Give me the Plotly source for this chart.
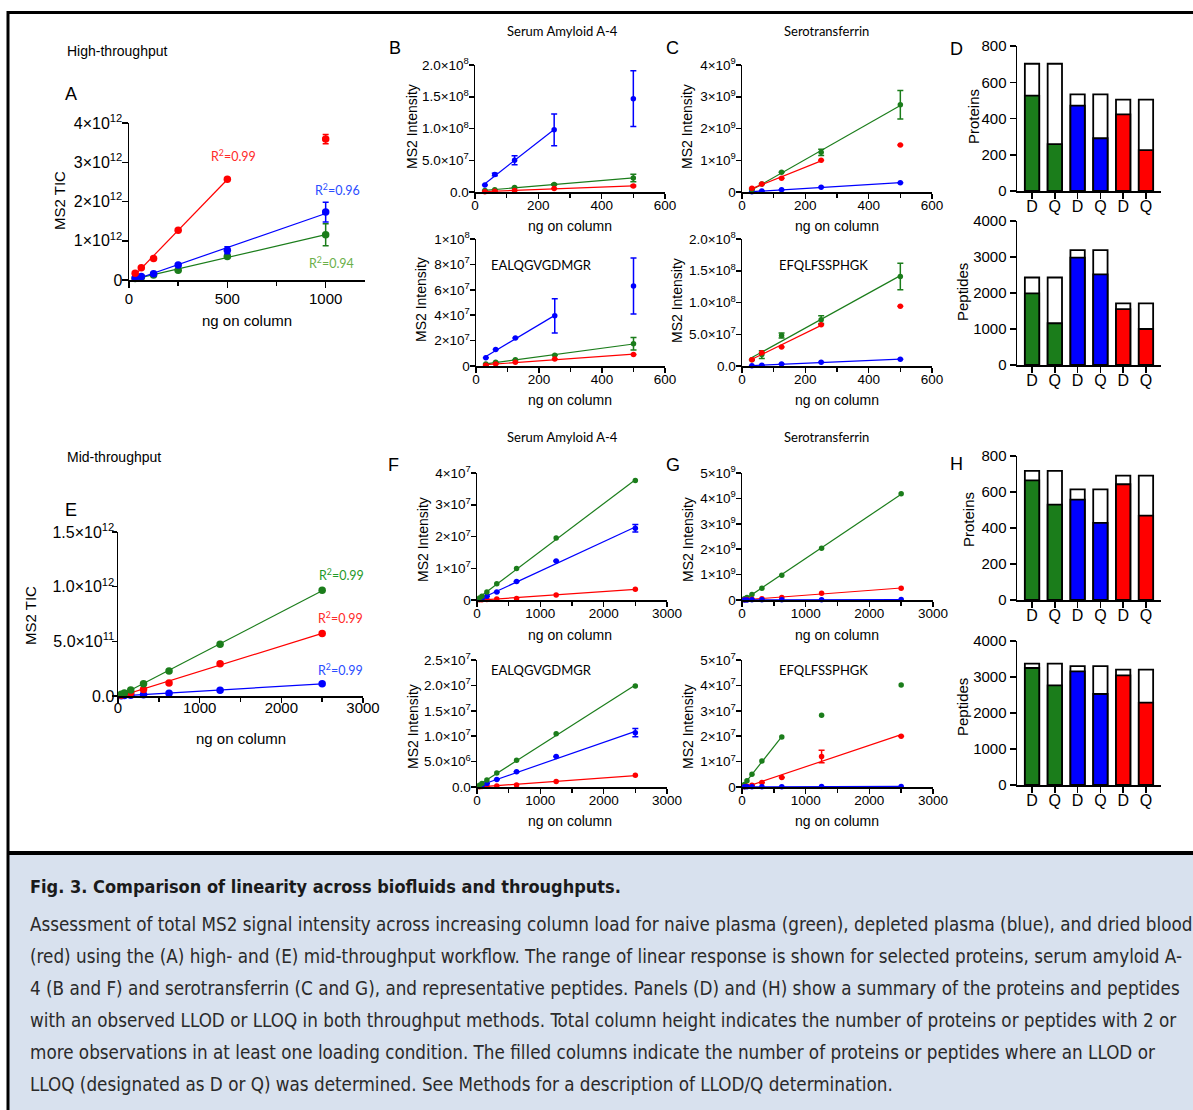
import numpy as np
import plotly.graph_objects as go

W, H = 1193, 1110
ARIAL = "Arial, Liberation Sans, Helvetica, sans-serif"
CALIBRI = "Lato, Carlito, Calibri, Open Sans, sans-serif"
COND = "Liberation Sans Narrow, DejaVu Sans Condensed, Roboto Condensed, Arial Narrow, sans-serif"

GREEN = "#1b7d1b"
BLUE = "#0000ff"
RED = "#ff0000"

# ---------------- data ----------------
x_ht = [31.25, 62.5, 125, 250, 500, 1000]
x_ht5 = [31.25, 62.5, 125, 250, 500]
x_mt = [39.0625, 78.125, 156.25, 312.5, 625, 1250, 2500]

# A: high-throughput MS2 TIC
a_green = [0.04e12, 0.07e12, 0.13e12, 0.25e12, 0.60e12, 1.15e12]
a_green_err = [0, 0, 0, 0.02e12, 0.03e12, 0.28e12]
a_blue = [0.05e12, 0.09e12, 0.16e12, 0.38e12, 0.76e12, 1.73e12]
a_blue_err = [0, 0, 0, 0.03e12, 0.09e12, 0.25e12]
a_red = [0.17e12, 0.31e12, 0.55e12, 1.27e12, 2.57e12, 3.59e12]
a_red_err = [0, 0, 0, 0, 0, 0.12e12]

# B: serum amyloid A-4 (protein / peptide), high throughput
b1_blue = [1.1e7, 2.75e7, 5.0e7, 9.8e7, 1.47e8]
b1_blue_err = [0, 0.2e7, 0.7e7, 2.5e7, 4.4e7]
b1_green = [0.25e7, 0.35e7, 0.7e7, 1.2e7, 2.2e7]
b1_green_err = [0, 0, 0, 0.1e7, 0.6e7]
b1_red = [0.05e7, 0.12e7, 0.25e7, 0.55e7, 0.95e7]
b1_red_err = [0, 0, 0, 0, 0.1e7]

b2_blue = [0.65e7, 1.3e7, 2.2e7, 3.95e7, 6.3e7]
b2_blue_err = [0, 0, 0, 1.35e7, 2.2e7]
b2_green = [0.15e7, 0.3e7, 0.5e7, 0.85e7, 1.75e7]
b2_green_err = [0, 0, 0, 0, 0.5e7]
b2_red = [0.05e7, 0.15e7, 0.3e7, 0.55e7, 0.9e7]
b2_red_err = [0, 0, 0, 0, 0]

# C: serotransferrin (protein / peptide), high throughput
c1_green = [0.08e9, 0.25e9, 0.62e9, 1.25e9, 2.75e9]
c1_green_err = [0, 0, 0, 0.1e9, 0.45e9]
c1_red = [0.12e9, 0.25e9, 0.43e9, 1.0e9, 1.48e9]
c1_red_err = [0, 0, 0, 0, 0]
c1_blue = [0.005e9, 0.03e9, 0.07e9, 0.15e9, 0.29e9]
c1_blue_err = [0, 0, 0, 0, 0]

c2_green = [1.0e7, 1.8e7, 4.8e7, 7.3e7, 14.1e7]
c2_green_err = [0, 0.6e7, 0.4e7, 0.6e7, 2.1e7]
c2_red = [1.0e7, 2.1e7, 3.0e7, 6.5e7, 9.4e7]
c2_red_err = [0, 0, 0, 0, 0]
c2_blue = [0.05e7, 0.1e7, 0.3e7, 0.6e7, 1.05e7]
c2_blue_err = [0, 0, 0, 0, 0]

# E: mid-throughput MS2 TIC
e_green = [0.015e12, 0.028e12, 0.055e12, 0.113e12, 0.229e12, 0.473e12, 0.967e12]
e_red = [0.008e12, 0.015e12, 0.03e12, 0.06e12, 0.119e12, 0.296e12, 0.571e12]
e_blue = [0.002e12, 0.004e12, 0.006e12, 0.012e12, 0.025e12, 0.052e12, 0.113e12]

# F: serum amyloid A-4, mid throughput
f1_green = [0.06e7, 0.12e7, 0.25e7, 0.515e7, 0.99e7, 1.95e7, 3.76e7]
f1_blue = [0.02e7, 0.05e7, 0.12e7, 0.25e7, 0.58e7, 1.23e7, 2.26e7]
f1_blue_err = [0, 0, 0, 0, 0, 0, 0.12e7]
f1_red = [0.005e7, 0.01e7, 0.015e7, 0.03e7, 0.05e7, 0.16e7, 0.34e7]

f2_green = [0.035e7, 0.07e7, 0.14e7, 0.276e7, 0.527e7, 1.05e7, 1.99e7]
f2_blue = [0.015e7, 0.03e7, 0.07e7, 0.15e7, 0.3e7, 0.6e7, 1.07e7]
f2_blue_err = [0, 0, 0, 0, 0, 0, 0.08e7]
f2_red = [0.005e7, 0.01e7, 0.02e7, 0.02e7, 0.04e7, 0.11e7, 0.23e7]

# G: serotransferrin, mid throughput
g1_green = [0.05e9, 0.1e9, 0.22e9, 0.46e9, 0.97e9, 2.04e9, 4.18e9]
g1_red = [0.01e9, 0.015e9, 0.03e9, 0.05e9, 0.1e9, 0.27e9, 0.46e9]
g1_blue = [0.002e9, 0.003e9, 0.005e9, 0.008e9, 0.01e9, 0.012e9, 0.02e9]

g2_green = [0.1e7, 0.25e7, 0.5e7, 1.02e7, 1.97e7, 2.82e7, 4.02e7]
g2_red = [0.01e7, 0.03e7, 0.07e7, 0.18e7, 0.37e7, 1.2e7, 2.0e7]
g2_red_err = [0, 0, 0, 0, 0, 0.25e7, 0]
g2_blue = [0.005e7, 0.005e7, 0.01e7, 0.01e7, 0.01e7, 0.015e7, 0.02e7]

# D / H: LLOD / LLOQ summary bars
bar_labels = ["D", "Q", "D", "Q", "D", "Q"]
bar_colors = [GREEN, GREEN, BLUE, BLUE, RED, RED]
d_prot_total = [702, 702, 533, 533, 504, 504]
d_prot_filled = [526, 259, 471, 291, 423, 226]
d_pep_total = [2430, 2430, 3190, 3190, 1710, 1710]
d_pep_filled = [1990, 1160, 2985, 2515, 1552, 1000]
h_prot_total = [717, 717, 615, 615, 691, 691]
h_prot_filled = [665, 530, 558, 428, 643, 469]
h_pep_total = [3370, 3370, 3300, 3300, 3203, 3203]
h_pep_filled = [3250, 2770, 3158, 2528, 3047, 2286]

# tick labels
def sci(m, e):
    return f"{m}×10<sup>{e}</sup>"

yt_a = ["0", sci(1, 12), sci(2, 12), sci(3, 12), sci(4, 12)]
yt_b1 = ["0.0", sci("5.0", 7), sci("1.0", 8), sci("1.5", 8), sci("2.0", 8)]
yt_b2 = ["0", sci(2, 7), sci(4, 7), sci(6, 7), sci(8, 7), sci(1, 8)]
yt_c1 = ["0", sci(1, 9), sci(2, 9), sci(3, 9), sci(4, 9)]
yt_c2 = ["0.0", sci("5.0", 7), sci("1.0", 8), sci("1.5", 8), sci("2.0", 8)]
yt_e = ["0.0", sci("5.0", 11), sci("1.0", 12), sci("1.5", 12)]
yt_f1 = ["0", sci(1, 7), sci(2, 7), sci(3, 7), sci(4, 7)]
yt_f2 = ["0.0", sci("5.0", 6), sci("1.0", 7), sci("1.5", 7), sci("2.0", 7), sci("2.5", 7)]
yt_g1 = ["0", sci(1, 9), sci(2, 9), sci(3, 9), sci(4, 9), sci(5, 9)]
yt_g2 = ["0", sci(1, 7), sci(2, 7), sci(3, 7), sci(4, 7), sci(5, 7)]

CAPTION_TITLE = "Fig. 3. Comparison of linearity across biofluids and throughputs."
CAPTION_LINES = [
    "Assessment of total MS2 signal intensity across increasing column load for naive plasma (green), depleted plasma (blue), and dried blood",
    "(red) using the (A) high- and (E) mid-throughput workflow. The range of linear response is shown for selected proteins, serum amyloid A-",
    "4 (B and F) and serotransferrin (C and G), and representative peptides. Panels (D) and (H) show a summary of the proteins and peptides",
    "with an observed LLOD or LLOQ in both throughput methods. Total column height indicates the number of proteins or peptides with 2 or",
    "more observations in at least one loading condition. The filled columns indicate the number of proteins or peptides where an LLOD or",
    "LLOQ (designated as D or Q) was determined. See Methods for a description of LLOD/Q determination.",
]

# ---------------- figure ----------------
fig = go.Figure()
layout = dict(width=W, height=H, margin=dict(l=0, r=0, t=0, b=0, pad=0),
              paper_bgcolor="white", plot_bgcolor="rgba(0,0,0,0)",
              barmode="overlay", showlegend=False, template="none")
annotations = []
shapes = []


def make_axes(n, x0, x1, y0, y1, xrange, yrange, xvals, xtext, yvals, ytext,
              xminor=None, xfs=13.5, yfs=13.5, xso=-5, yso=-3, tlen=5):
    xa = "xaxis" if n == 1 else f"xaxis{n}"
    ya = "yaxis" if n == 1 else f"yaxis{n}"
    xr = "x" if n == 1 else f"x{n}"
    yr = "y" if n == 1 else f"y{n}"
    common = dict(showline=True, linecolor="black", linewidth=1.5, ticks="outside",
                  ticklen=tlen, tickwidth=1.5, tickcolor="black", showgrid=False,
                  zeroline=False, fixedrange=True, tickmode="array", automargin=False,
                  mirror=False)
    layout[xa] = dict(domain=[x0 / W, x1 / W], range=xrange, anchor=yr,
                      tickvals=xvals, ticktext=xtext, ticklabelstandoff=xso,
                      tickfont=dict(family=ARIAL, size=xfs, color="black"), **common)
    if xminor is not None:
        layout[xa]["minor"] = dict(tickmode="array", tickvals=xminor, ticks="outside",
                                   ticklen=4, tickwidth=1.5, tickcolor="black")
    layout[ya] = dict(domain=[1 - y1 / H, 1 - y0 / H], range=yrange, anchor=xr,
                      tickvals=yvals, ticktext=ytext, ticklabelstandoff=yso,
                      tickfont=dict(family=ARIAL, size=yfs, color="black"), **common)
    return xr, yr


def series(xr, yr, x, y, err, color, nfit, ms=6):
    xs = np.array(x[:nfit], dtype=float)
    ys = np.array(y[:nfit], dtype=float)
    m, b = np.polyfit(xs, ys, 1)
    xl = np.array([xs.min(), xs.max()])
    fig.add_trace(go.Scatter(x=xl, y=m * xl + b, mode="lines",
                             line=dict(color=color, width=1.2),
                             xaxis=xr, yaxis=yr, hoverinfo="skip", showlegend=False))
    ed = None
    if err is not None:
        ed = dict(type="data", array=err, color=color, thickness=1.5, width=3, visible=True)
    fig.add_trace(go.Scatter(x=x, y=y, mode="markers", error_y=ed,
                             marker=dict(color=color, size=ms, line=dict(width=0)),
                             cliponaxis=False, xaxis=xr, yaxis=yr, showlegend=False))


def bars(xr, yr, total, filled):
    pos = list(range(len(total)))
    fig.add_trace(go.Bar(x=pos, y=total, width=0.63, marker=dict(color="white",
                         line=dict(color="black", width=1.8)), xaxis=xr, yaxis=yr,
                         showlegend=False))
    fig.add_trace(go.Bar(x=pos, y=filled, width=0.63, marker=dict(color=bar_colors,
                         line=dict(color="black", width=1.8)), xaxis=xr, yaxis=yr,
                         showlegend=False))


def txt(x, y, s, size, family=ARIAL, color="black", xanchor="center", angle=0):
    annotations.append(dict(xref="paper", yref="paper", x=x / W, y=1 - y / H, text=s,
                            showarrow=False, xanchor=xanchor, yanchor="middle",
                            textangle=angle,
                            font=dict(family=family, size=size, color=color)))


# ---- Panel A ----
xr, yr = make_axes(1, 129, 365, 123, 280, [0, 1200], [0, 4e12],
                   [0, 500, 1000], ["0", "500", "1000"],
                   [0, 1e12, 2e12, 3e12, 4e12], yt_a, xminor=[250, 750],
                   xfs=15, yfs=16, xso=-2, yso=-4, tlen=6)
series(xr, yr, x_ht, a_green, a_green_err, GREEN, 6, 7.5)
series(xr, yr, x_ht, a_blue, a_blue_err, BLUE, 6, 7.5)
series(xr, yr, x_ht, a_red, a_red_err, RED, 5, 7.5)

# ---- Panel B ----
ht_minor = [100, 300, 500]
ht_vals = [0, 200, 400, 600]
ht_text = ["0", "200", "400", "600"]
xr, yr = make_axes(2, 475, 665, 65, 192, [0, 600], [0, 2e8], ht_vals, ht_text,
                   [0, 5e7, 1e8, 1.5e8, 2e8], yt_b1, xminor=ht_minor)
series(xr, yr, x_ht5, b1_green, b1_green_err, GREEN, 5, 5.5)
series(xr, yr, x_ht5, b1_red, b1_red_err, RED, 5, 5.5)
series(xr, yr, x_ht5, b1_blue, b1_blue_err, BLUE, 4, 5.5)

xr, yr = make_axes(3, 476, 665, 239, 366, [0, 600], [0, 1e8], ht_vals, ht_text,
                   [0, 2e7, 4e7, 6e7, 8e7, 1e8], yt_b2, xminor=ht_minor)
series(xr, yr, x_ht5, b2_green, b2_green_err, GREEN, 5, 5.5)
series(xr, yr, x_ht5, b2_red, b2_red_err, RED, 5, 5.5)
series(xr, yr, x_ht5, b2_blue, b2_blue_err, BLUE, 4, 5.5)

# ---- Panel C ----
xr, yr = make_axes(4, 742, 932, 65, 192, [0, 600], [0, 4e9], ht_vals, ht_text,
                   [0, 1e9, 2e9, 3e9, 4e9], yt_c1, xminor=ht_minor)
series(xr, yr, x_ht5, c1_blue, c1_blue_err, BLUE, 5, 5.5)
series(xr, yr, x_ht5, c1_green, c1_green_err, GREEN, 5, 5.5)
series(xr, yr, x_ht5, c1_red, c1_red_err, RED, 4, 5.5)

xr, yr = make_axes(5, 742, 932, 239, 366, [0, 600], [0, 2e8], ht_vals, ht_text,
                   [0, 5e7, 1e8, 1.5e8, 2e8], yt_c2, xminor=ht_minor)
series(xr, yr, x_ht5, c2_blue, c2_blue_err, BLUE, 5, 5.5)
series(xr, yr, x_ht5, c2_green, c2_green_err, GREEN, 5, 5.5)
series(xr, yr, x_ht5, c2_red, c2_red_err, RED, 4, 5.5)

# ---- Panel D ----
bar_pos = list(range(6))
prot_vals = [0, 200, 400, 600, 800]
prot_text = ["0", "200", "400", "600", "800"]
pep_vals = [0, 1000, 2000, 3000, 4000]
pep_text = ["0", "1000", "2000", "3000", "4000"]
xr, yr = make_axes(6, 1017, 1161, 46, 191, [-0.66, 5.66], [0, 800],
                   bar_pos, bar_labels, prot_vals, prot_text,
                   xfs=16, yfs=15, xso=-6, yso=0, tlen=6)
bars(xr, yr, d_prot_total, d_prot_filled)
xr, yr = make_axes(7, 1017, 1161, 221, 365, [-0.66, 5.66], [0, 4000],
                   bar_pos, bar_labels, pep_vals, pep_text,
                   xfs=16, yfs=15, xso=-6, yso=0, tlen=6)
bars(xr, yr, d_pep_total, d_pep_filled)

# ---- Panel E ----
mt_minor = [500, 1500, 2500]
mt_vals = [0, 1000, 2000, 3000]
mt_text = ["0", "1000", "2000", "3000"]
xr, yr = make_axes(8, 118, 363, 532, 696, [0, 3000], [0, 1.5e12],
                   mt_vals, mt_text, [0, 5e11, 1e12, 1.5e12], yt_e,
                   xminor=mt_minor, xfs=15, yfs=16, xso=-8, yso=-6, tlen=5)
series(xr, yr, x_mt, e_blue, None, BLUE, 7, 7.5)
series(xr, yr, x_mt, e_red, None, RED, 7, 7.5)
series(xr, yr, x_mt, e_green, None, GREEN, 7, 7.5)

# ---- Panel F ----
xr, yr = make_axes(9, 477, 667, 473, 600, [0, 3000], [0, 4e7],
                   mt_vals, mt_text, [0, 1e7, 2e7, 3e7, 4e7], yt_f1, xminor=mt_minor)
series(xr, yr, x_mt, f1_red, None, RED, 7, 5.5)
series(xr, yr, x_mt, f1_blue, f1_blue_err, BLUE, 7, 5.5)
series(xr, yr, x_mt, f1_green, None, GREEN, 7, 5.5)

xr, yr = make_axes(10, 477, 667, 660, 787, [0, 3000], [0, 2.5e7],
                   mt_vals, mt_text, [0, 5e6, 1e7, 1.5e7, 2e7, 2.5e7], yt_f2,
                   xminor=mt_minor)
series(xr, yr, x_mt, f2_red, None, RED, 7, 5.5)
series(xr, yr, x_mt, f2_blue, f2_blue_err, BLUE, 7, 5.5)
series(xr, yr, x_mt, f2_green, None, GREEN, 7, 5.5)

# ---- Panel G ----
xr, yr = make_axes(11, 742, 933, 473, 600, [0, 3000], [0, 5e9],
                   mt_vals, mt_text, [0, 1e9, 2e9, 3e9, 4e9, 5e9], yt_g1, xminor=mt_minor)
series(xr, yr, x_mt, g1_green, None, GREEN, 7, 5.5)
series(xr, yr, x_mt, g1_red, None, RED, 7, 5.5)
series(xr, yr, x_mt, g1_blue, None, BLUE, 7, 5.5)

xr, yr = make_axes(12, 742, 933, 660, 787, [0, 3000], [0, 5e7],
                   mt_vals, mt_text, [0, 1e7, 2e7, 3e7, 4e7, 5e7], yt_g2, xminor=mt_minor)
series(xr, yr, x_mt, g2_green, None, GREEN, 5, 5.5)
series(xr, yr, x_mt, g2_red, g2_red_err, RED, 7, 5.5)
series(xr, yr, x_mt, g2_blue, None, BLUE, 7, 5.5)

# ---- Panel H ----
xr, yr = make_axes(13, 1017, 1161, 456, 600, [-0.66, 5.66], [0, 800],
                   bar_pos, bar_labels, prot_vals, prot_text,
                   xfs=16, yfs=15, xso=-6, yso=0, tlen=6)
bars(xr, yr, h_prot_total, h_prot_filled)
xr, yr = make_axes(14, 1017, 1161, 641, 785, [-0.66, 5.66], [0, 4000],
                   bar_pos, bar_labels, pep_vals, pep_text,
                   xfs=16, yfs=15, xso=-6, yso=0, tlen=6)
bars(xr, yr, h_pep_total, h_pep_filled)

# ---------------- text ----------------
txt(65, 51, "High-throughput", 14, xanchor="left")
txt(65, 457, "Mid-throughput", 14, xanchor="left")
for lab, x, y in [("A", 63, 94), ("B", 387, 48), ("C", 664, 48), ("D", 948, 49),
                  ("E", 63, 510), ("F", 386, 465), ("G", 664, 465), ("H", 948, 464)]:
    txt(x, y, lab, 18, xanchor="left")

for y in (31, 437):
    txt(562, y, "Serum Amyloid A-4", 13, family=CALIBRI)
    txt(826, y, "Serotransferrin", 13, family=CALIBRI)
for y in (265, 670):
    txt(541, y, "EALQGVGDMGR", 13, family=CALIBRI)
    txt(823, y, "EFQLFSSPHGK", 13, family=CALIBRI)

# axis titles
txt(60, 200, "MS2 TIC", 15, angle=-90)
txt(247, 321, "ng on column", 15)
txt(30, 615, "MS2 TIC", 15, angle=-90)
txt(241, 738, "ng on column", 15)
for x, y in [(412, 127), (421, 300), (687, 127), (677, 300),
             (423, 540), (413, 727), (688, 540), (688, 727)]:
    txt(x, y, "MS2 Intensity", 14, angle=-90)
for x in (570, 837):
    for y in (226, 400, 635, 821):
        txt(x, y, "ng on column", 14)
txt(973, 117, "Proteins", 15, angle=-90)
txt(962, 292, "Peptides", 15, angle=-90)
txt(968, 520, "Proteins", 15, angle=-90)
txt(962, 707, "Peptides", 15, angle=-90)

# R^2 labels
r2 = "R<sup>2</sup>=0.99"
txt(233, 155, r2, 12.5, family=CALIBRI, color="#ff2a2a")
txt(337, 189, "R<sup>2</sup>=0.96", 12.5, family=CALIBRI, color="#2b4dff")
txt(331, 262, "R<sup>2</sup>=0.94", 12.5, family=CALIBRI, color="#6bb04a")
txt(341, 574, r2, 12.5, family=CALIBRI, color="#1f9a2a")
txt(340, 617, r2, 12.5, family=CALIBRI, color="#ff2a2a")
txt(340, 669, r2, 12.5, family=CALIBRI, color="#2b4dff")

# caption
txt(28, 886, "<b>" + CAPTION_TITLE + "</b>", 18, family=COND, color="#1a1a1a", xanchor="left")
for i, line in enumerate(CAPTION_LINES):
    txt(28, 924 + 32 * i, line, 18.7, family=COND, color="#2a2a2a", xanchor="left")

# frame / caption background
def pshape(t, x0, y0, x1, y1, **kw):
    d = dict(type=t, xref="paper", yref="paper", x0=x0 / W, x1=x1 / W,
             y0=1 - y0 / H, y1=1 - y1 / H, layer="below")
    d.update(kw)
    shapes.append(d)

pshape("rect", 8, 853, 1200, 1115, fillcolor="#d8e1ee", line=dict(width=0))
pshape("line", 8, 853, 1200, 853, line=dict(color="black", width=4))
pshape("line", 7, 12.5, 1200, 12.5, line=dict(color="black", width=3))
pshape("line", 8, 11, 8, 1115, line=dict(color="black", width=3))

layout["annotations"] = annotations
layout["shapes"] = shapes
fig.update_layout(**layout)
fig.write_html("out.html", config={"displayModeBar": False, "staticPlot": True},
               post_script="document.body.style.margin='0px';document.body.style.padding='0px';")
